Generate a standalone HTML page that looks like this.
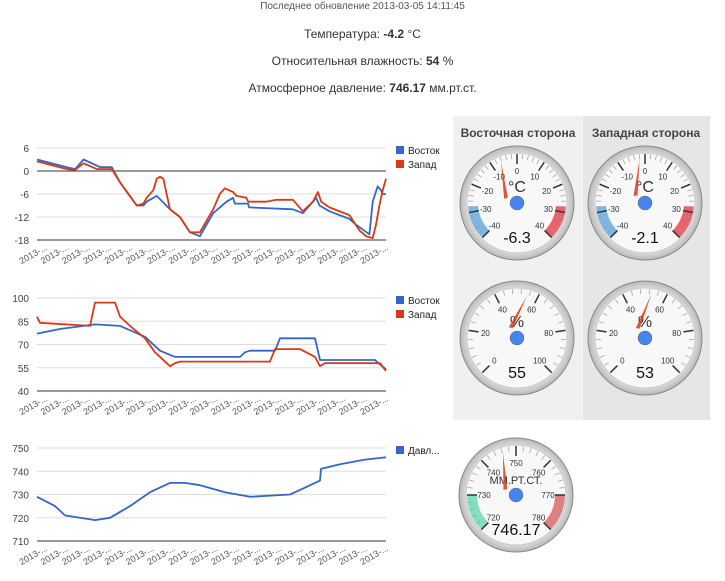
<!DOCTYPE html>
<html><head><meta charset="utf-8"><style>
body{margin:0;width:725px;height:581px;background:#fff;font-family:"Liberation Sans",Arial,sans-serif;position:relative;overflow:hidden}
.t{position:absolute;left:0;width:725px;text-align:center;color:#333}
</style></head><body>
<div class="t" style="top:1px;font-size:10px;color:#555">Последнее обновление 2013-03-05 14:11:45</div>
<div class="t" style="top:27px;font-size:12px">Температура: <b>-4.2</b> °C</div>
<div class="t" style="top:54px;font-size:12px">Относительная влажность: <b>54</b> %</div>
<div class="t" style="top:81px;font-size:12px">Атмосферное давление: <b>746.17</b> мм.рт.ст.</div>
<svg id="s" width="725" height="581" style="position:absolute;left:0;top:0" xmlns="http://www.w3.org/2000/svg" font-family="Liberation Sans, Arial, sans-serif"></svg>
<script>
var s=document.getElementById('s'),h='';
h+='<rect x="453" y="116" width="130" height="304" fill="#f0f0f0"/><rect x="583" y="116" width="127" height="304" fill="#e6e6e6"/>';
h+='<text x="518" y="137" font-size="12" font-weight="bold" fill="#444" text-anchor="middle">Восточная сторона</text>';
h+='<text x="646" y="137" font-size="12" font-weight="bold" fill="#444" text-anchor="middle">Западная сторона</text>';
var X0=37,X1=386;
function chart(y0,y1,vmin,vmax,ticks,series,legend,ly){
 var f=v=>y1-(v-vmin)*(y1-y0)/(vmax-vmin);
 ticks.forEach(v=>{var y=f(v);h+='<line x1="'+X0+'" x2="'+X1+'" y1="'+y+'" y2="'+y+'" stroke="'+(v==0||v==vmin?'#333':'#ddd')+'"/>';
  h+='<text x="29" y="'+(y+4)+'" font-size="10" fill="#444" text-anchor="end">'+v+'</text>';});
 series.forEach(sr=>{var p=sr.d.map(q=>(X0+q[0]*(X1-X0)).toFixed(1)+','+f(q[1]).toFixed(1)).join(' ');
  h+='<polyline points="'+p+'" fill="none" stroke="'+sr.c+'" stroke-width="1.8" stroke-linejoin="round"/>';});
 legend.forEach((l,i)=>{h+='<rect x="396" y="'+(ly+i*14-6)+'" width="8" height="8" fill="'+l[1]+'"/><text x="408" y="'+(ly+i*14+2)+'" font-size="10" fill="#222">'+l[0]+'</text>';});
 for(var i=0;i<17;i++){var x=18+i*21.3;h+='<text transform="translate('+(x+30)+','+(y1+9)+') rotate(-30)" font-size="9" fill="#555" text-anchor="end">2013-...</text>';}
}
function zt(a){return a.map(q=>[(q[0]-110)/1050,q[1]]);}
function px(a){return a.map(q=>[(q[0]-37)/349,q[1]]);}
var B='#3366cc',R='#dc3912';
chart(148,240,-18,6,[6,0,-6,-12,-18],[
{c:B,d:zt([[110,3],[200,1],[225,0.5],[250,3],[300,1],[335,1],[360,-3],[410,-9],[430,-9],[440,-8],[470,-6.5],[510,-10],[540,-12],[570,-16],[600,-17],[640,-11],[680,-8],[700,-7],[705,-8.5],[745,-8.5],[748,-9.5],[880,-10],[910,-11],[940,-8],[950,-7],[960,-9],[990,-10.5],[1050,-12.5],[1070,-14],[1110,-16.5],[1120,-8],[1135,-4],[1145,-5],[1150,-6],[1160,-6]])},
{c:R,d:zt([[110,2.5],[200,0.5],[225,0.3],[250,2],[290,0.5],[335,0.5],[360,-3],[410,-9],[430,-8.5],[440,-7],[460,-5],[470,-2],[480,-1.5],[490,-2],[510,-10],[540,-12],[570,-16],[600,-16],[640,-10],[660,-6],[675,-4.5],[700,-5.5],[710,-6.5],[740,-7],[745,-8],[800,-8],[830,-7.5],[880,-7.5],[910,-10.5],[940,-8],[955,-5.5],[965,-8],[990,-9.5],[1050,-11.5],[1080,-15.5],[1100,-17],[1120,-17.5],[1130,-14],[1140,-9],[1150,-5],[1160,-2]])}],
[['Восток',B],['Запад',R]],152);
chart(298,391,40,100,[100,85,70,55,40],[
{c:B,d:px([[37,77],[60,80],[95,83],[120,82],[145,75],[160,66],[175,62],[240,62],[245,65],[250,66],[275,66],[280,74],[315,74],[320,60],[375,60],[380,57],[386,54]])},
{c:R,d:px([[37,88],[40,84],[90,82],[95,97],[115,97],[120,88],[130,82],[145,74],[155,65],[170,56],[175,58],[180,59],[270,59],[275,67],[300,67],[315,62],[320,56],[325,58],[375,58],[380,58],[386,53]])}],
[['Восток',B],['Запад',R]],302);
chart(448,541,710,750,[750,740,730,720,710],[
{c:B,d:px([[37,729],[55,725],[65,721],[95,719],[110,720],[130,725],[150,731],[170,735],[185,735],[200,734],[225,731],[250,729],[290,730],[300,732],[320,736],[321,741],[340,743],[365,745],[386,746]])}],
[['Давл...',B]],452);
h+='<defs><radialGradient id="rg"><stop offset="0.85" stop-color="#e2e2e2"/><stop offset="1" stop-color="#b8b8b8"/></radialGradient></defs>';
function gauge(cx,cy,mn,mx,step,minor,bands,unit,val,txt){
 var r=57,A=a=>(-135+270*(a-mn)/(mx-mn))*Math.PI/180;
 var P=(a,rr)=>[cx+rr*Math.sin(A(a)),cy-rr*Math.cos(A(a))];
 h+='<circle cx="'+cx+'" cy="'+cy+'" r="'+r+'" fill="url(#rg)" stroke="#888"/>';
 h+='<circle cx="'+cx+'" cy="'+cy+'" r="50" fill="#f8f8f8" stroke="#ccc"/>';
 bands.forEach(b=>{var a1=P(b[0],49),a2=P(b[1],49),b1=P(b[1],39),b2=P(b[0],39);
  h+='<path d="M'+a1+' A49,49 0 0 1 '+a2+' L'+b1+' A39,39 0 0 0 '+b2+'Z" fill="'+b[2]+'"/>';});
 for(var v=mn;v<=mx+1e-6;v+=minor){var a=P(v,49),b=P(v,44);h+='<line x1="'+a[0]+'" y1="'+a[1]+'" x2="'+b[0]+'" y2="'+b[1]+'" stroke="#999" stroke-width="0.7"/>';}
 for(var v=mn;v<=mx+1e-6;v+=step){var a=P(v,49),b=P(v,39),t=P(v,32);h+='<line x1="'+a[0]+'" y1="'+a[1]+'" x2="'+b[0]+'" y2="'+b[1]+'" stroke="#333" stroke-width="1.5"/>';
  h+='<text x="'+t[0]+'" y="'+(t[1]+3)+'" font-size="8" fill="#333" text-anchor="middle">'+v+'</text>';}
 h+='<text x="'+cx+'" y="'+(cy-11)+'" font-size="'+(unit.length>3?11:16)+'" fill="#333" text-anchor="middle">'+unit+'</text>';
 h+='<text x="'+cx+'" y="'+(cy+40)+'" font-size="16" fill="#111" text-anchor="middle">'+txt+'</text>';
 var tip=P(val,44),t1=P(val+(mx-mn)/2,-12),an=A(val),nx=Math.cos(an)*2,ny=Math.sin(an)*2;
 h+='<polygon points="'+tip+' '+(t1[0]+nx)+','+(t1[1]+ny)+' '+(t1[0]-nx)+','+(t1[1]-ny)+'" fill="#dc3912" opacity="0.85"/>';
 h+='<circle cx="'+cx+'" cy="'+cy+'" r="7" fill="#4684ee" stroke="#666" stroke-width="0.5"/>';
}
var tb=[[-40,-28,'#7db6e3'],[28,40,'#e9636c']],hb=[];
gauge(517,203,-40,40,10,2,tb,'°C',-6.3,'-6.3');
gauge(645,203,-40,40,10,2,tb,'°C',-2.1,'-2.1');
gauge(517,338,0,100,20,4,hb,'%',55,'55');
gauge(645,338,0,100,20,4,hb,'%',53,'53');
gauge(516,495,720,780,10,2,[[720,730,'#80e0c0'],[770,780,'#e08080']],'ММ.РТ.СТ.',746.17,'746.17');
s.innerHTML=h;
</script>
</body></html>
